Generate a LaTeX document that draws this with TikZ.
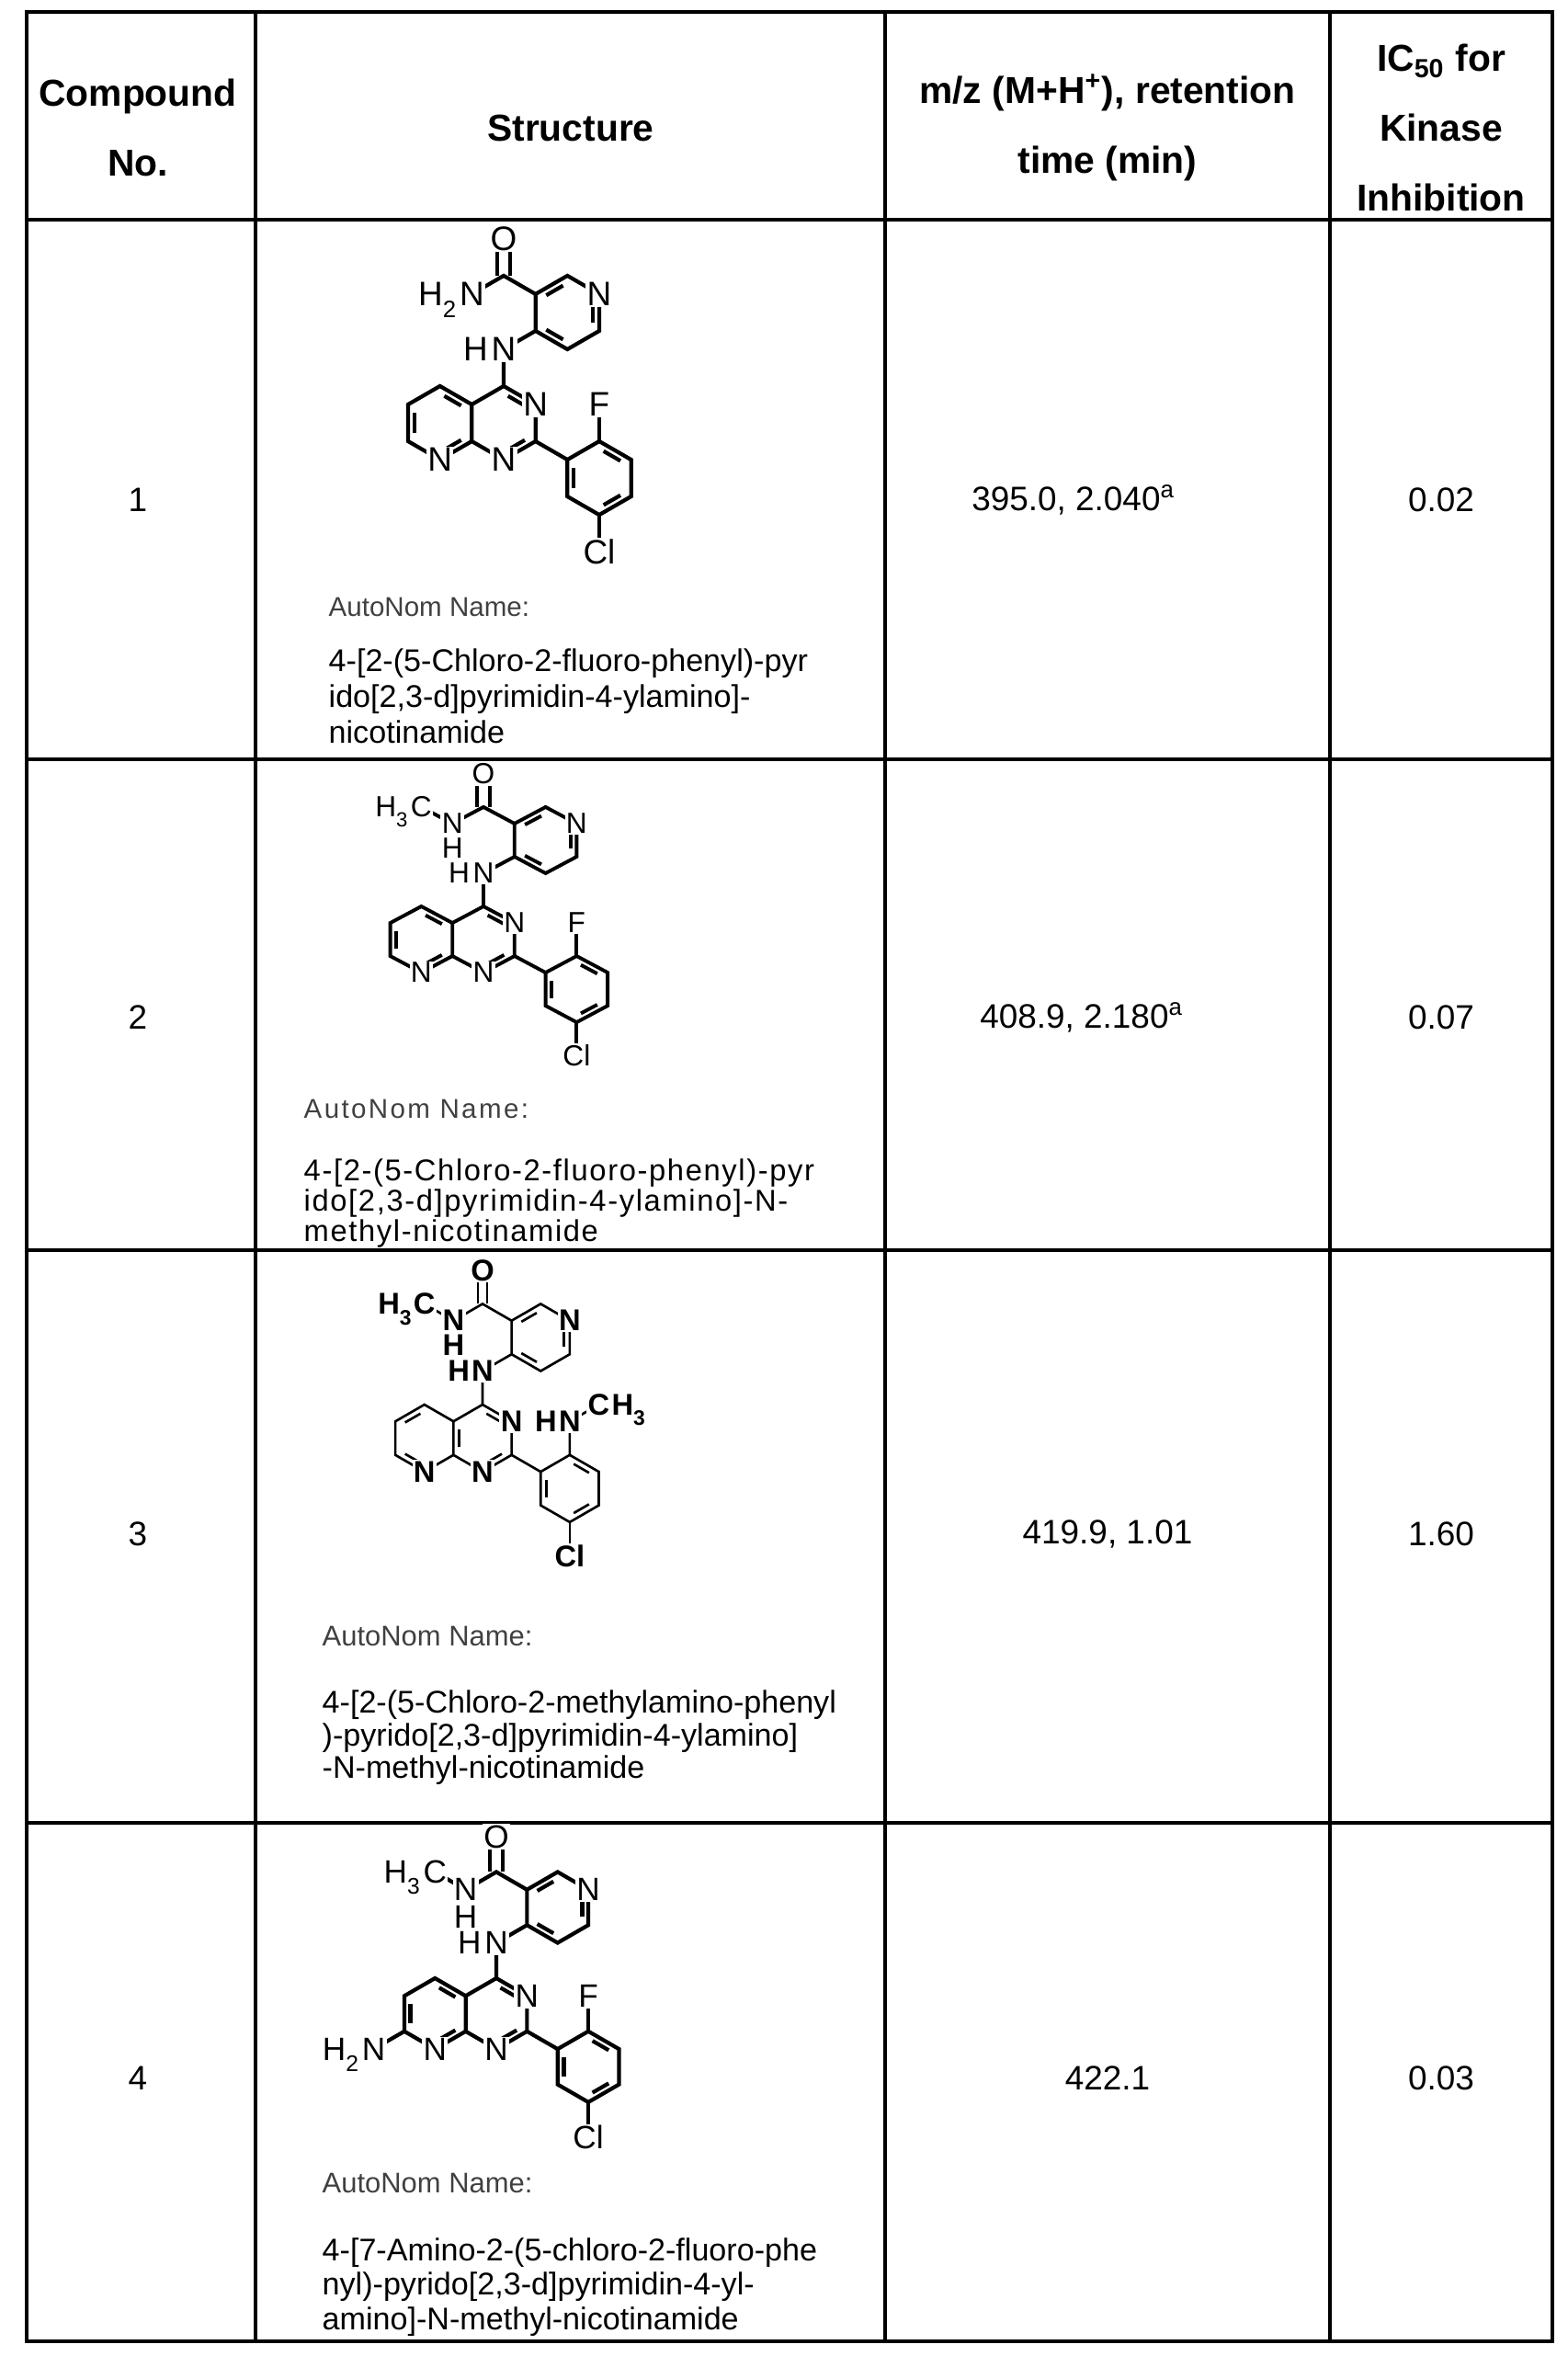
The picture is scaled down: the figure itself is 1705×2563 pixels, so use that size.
\documentclass[tikz,border=0pt]{standalone}
\usepackage{fontspec}
\setmainfont{Liberation Sans}
\usetikzlibrary{calc}
\newcommand\sbs[1]{\raisebox{-0.35em}{\scalebox{0.7}{#1}}}
\def\ls{8}
\tikzset{
  lab/.style={fill=white,inner sep=0.4pt,font=\fontsize{\ls}{\ls}\selectfont},
  hl/.style={lab,anchor=base east,inner xsep=0pt,xshift=0.5pt},
  hr/.style={lab,anchor=base west,inner xsep=0pt,xshift=-0.5pt},
  tline/.style={line width=1.2pt},
  hdr/.style={font=\bfseries\fontsize{11.6}{21.5}\selectfont,align=center},
  val/.style={font=\fontsize{10.5}{12}\selectfont},
  nm/.style={anchor=base west,font=\fontsize{9.7}{10}\selectfont,inner sep=0pt},
  an/.style={anchor=base west,font=\fontsize{8.4}{10}\selectfont,inner sep=0pt,text=black!75},
}
\newcommand\dbl[3]{\draw ($($(#1)!0.17!(#2)$)!0.2!(#3)$) -- ($($(#2)!0.17!(#1)$)!0.2!(#3)$);}
\newcommand\molcoords{
  \coordinate (C4) at (0,0); \coordinate (N3) at (0.866,0.5); \coordinate (C2) at (0.866,1.5);
  \coordinate (N1) at (0,2); \coordinate (C8a) at (-0.866,1.5); \coordinate (C4a) at (-0.866,0.5);
  \coordinate (C5) at (-1.732,0); \coordinate (C6) at (-2.598,0.5); \coordinate (C7) at (-2.598,1.5);
  \coordinate (N8) at (-1.732,2); \coordinate (P) at (0,1); \coordinate (Q) at (-1.732,1);
  \coordinate (NH) at (0,-1); \coordinate (U4) at (0.866,-1.5); \coordinate (U3) at (0.866,-2.5);
  \coordinate (U2) at (1.732,-3); \coordinate (U1) at (2.598,-2.5); \coordinate (U6) at (2.598,-1.5);
  \coordinate (U5) at (1.732,-1); \coordinate (R) at (1.732,-2);
  \coordinate (Cc) at (0,-3); \coordinate (O) at (0,-4); \coordinate (Na) at (-0.866,-2.5);
  \coordinate (Me) at (-1.732,-3);
  \coordinate (A1) at (1.732,2); \coordinate (A2) at (2.598,1.5); \coordinate (A3) at (3.464,2);
  \coordinate (A4) at (3.464,3); \coordinate (A5) at (2.598,3.5); \coordinate (A6) at (1.732,3);
  \coordinate (S) at (2.598,2.5); \coordinate (Fx) at (2.598,0.5); \coordinate (Clx) at (2.598,4.5);
  \coordinate (Cm) at (3.464,0); \coordinate (N7) at (-3.464,2);
}
\newcommand\molbonds{
  \draw (C4)--(N3)--(C2)--(N1)--(C8a)--(C4a)--cycle;
  \draw (C4a)--(C5)--(C6)--(C7)--(N8)--(C8a);
  \draw (C4)--(NH)--(U4)--(U3)--(U2)--(U1)--(U6)--(U5)--(U4);
  \draw (U3)--(Cc)--(Na); \draw (C2)--(A1)--(A2)--(A3)--(A4)--(A5)--(A6)--(A1);
  \draw (A5)--(Clx); \draw (A2)--(Fx);
  \draw ([xshift=-0.07cm]Cc)--([xshift=-0.07cm]O); \draw ([xshift=0.07cm]Cc)--([xshift=0.07cm]O);
  \dbl{C4}{N3}{P}\dbl{C2}{N1}{P}\dbl{C4a}{C5}{Q}\dbl{C6}{C7}{Q}\dbl{N8}{C8a}{Q}
  \dbl{U3}{U2}{R}\dbl{U1}{U6}{R}\dbl{U5}{U4}{R}\dbl{A2}{A3}{S}\dbl{A4}{A5}{S}\dbl{A6}{A1}{S}
}
\newcommand\mollabels{
  \node[lab] (lN3) at (N3) {N}; \node[lab] (lN1) at (N1) {N}; \node[lab] (lN8) at (N8) {N};
  \node[lab] (lU1) at (U1) {N}; \node[lab] (lO) at (O) {O}; \node[lab] (lCl) at (Clx) {Cl};
  \node[lab] (lNH) at (NH) {N}; \node[hl] (lNHh) at (lNH.base west) {H};
}
\newcommand\amideNH{
  \draw (Na)--(Me);
  \node[lab] (lNa) at (Na) {N}; \node[lab,anchor=north,inner ysep=0pt] (lNah) at (lNa.south) {H};
  \node[lab] (lMe) at (Me) {C}; \node[hl] (lMeh) at (lMe.base west) {H\sbs{3}};
}
\begin{document}
\begin{tikzpicture}[x=0.01cm,y=-0.01cm]
\useasboundingbox (0,0) rectangle (1705,2563);
% table
\draw[tline] (29,13) rectangle (1689,2547);
\foreach \xx in {278,963,1447} \draw[tline] (\xx,13) -- (\xx,2547);
\foreach \yy in {239,826,1360,1983} \draw[tline] (29,\yy) -- (1689,\yy);
% header
\node[hdr] (h1) at (150,139) {Compound\\No.};
\node[hdr] (h2) at (621,139) {Structure};
\node[hdr] (h3) at (1205,139) {m/z (M+H\textsuperscript{+}), retention\\time (min)};
\node[hdr] (h4) at (1568,139) {IC\textsubscript{50} for\\Kinase\\Inhibition};
% numbers and values
\node[val] (n1) at (150,544) {1}; \node[val] (m1) at (1168,544) {395.0, 2.040\textsuperscript{a}}; \node[val] (i1) at (1568,544) {0.02};
\node[val] (n2) at (150,1107) {2}; \node[val] (m2) at (1177,1107) {408.9, 2.180\textsuperscript{a}}; \node[val] (i2) at (1568,1107) {0.07};
\node[val] (n3) at (150,1669) {3}; \node[val] (m3) at (1205,1669) {419.9, 1.01}; \node[val] (i3) at (1568,1669) {1.60};
\node[val] (n4) at (150,2261) {4}; \node[val] (m4) at (1205,2261) {422.1}; \node[val] (i4) at (1568,2261) {0.03};
% compound 1
\begin{scope}[shift={(548,420)}]\begin{scope}[x=0.40cm,y=-0.40cm,line width=1.2pt]
\def\ls{10.5}
\molcoords\molbonds\mollabels
\node[lab] (lF) at (Fx) {F};
\node[lab] (lNa) at (Na) {N}; \node[hl] (lNah) at (lNa.base west) {H\sbs{2}};
\end{scope}\end{scope}
\node[an] (a1) at (357,670) {AutoNom Name:};
\node[nm] (t1a) at (357,730) {4-[2-(5-Chloro-2-fluoro-phenyl)-pyr};
\node[nm] (t1b) at (357,769) {ido[2,3-d]pyrimidin-4-ylamino]-};
\node[nm] (t1c) at (357,808) {nicotinamide};
% compound 2
\begin{scope}[shift={(526,986)}]\begin{scope}[x=0.39cm,y=-0.36cm,line width=1.1pt]
\def\ls{9}
\molcoords\molbonds\mollabels\amideNH
\node[lab] (lF) at (Fx) {F};
\end{scope}\end{scope}
\node[an,font=\fontsize{8.4}{10}\selectfont\addfontfeature{LetterSpace=8}] (a2) at (330,1216) {AutoNom Name:};
\node[nm,font=\fontsize{9.3}{10}\selectfont\addfontfeature{LetterSpace=5}] (t2a) at (330,1284) {4-[2-(5-Chloro-2-fluoro-phenyl)-pyr};
\node[nm,font=\fontsize{9.3}{10}\selectfont\addfontfeature{LetterSpace=5}] (t2b) at (330,1317) {ido[2,3-d]pyrimidin-4-ylamino]-N-};
\node[nm,font=\fontsize{9.3}{10}\selectfont\addfontfeature{LetterSpace=5}] (t2c) at (330,1350) {methyl-nicotinamide};
% compound 3
\begin{scope}[shift={(525,1528)}]\begin{scope}[x=0.365cm,y=-0.365cm,line width=0.75pt]
\def\ls{9.3}
\molcoords
\draw (C4)--(N3)--(C2)--(N1)--(C8a)--(C4a)--cycle;
\draw (C4a)--(C5)--(C6)--(C7)--(N8)--(C8a);
\draw (C4)--(NH)--(U4)--(U3)--(U2)--(U1)--(U6)--(U5)--(U4);
\draw (U3)--(Cc)--(Na); \draw (C2)--(A1)--(A2)--(A3)--(A4)--(A5)--(A6)--(A1);
\draw (A5)--(Clx); \draw (A2)--(Fx)--(Cm);
\draw ([xshift=-0.05cm]Cc)--([xshift=-0.05cm]O); \draw ([xshift=0.05cm]Cc)--([xshift=0.05cm]O);
\dbl{C4}{N3}{P}\dbl{C2}{N1}{P}\dbl{C4a}{C8a}{P}\dbl{C5}{C6}{Q}\dbl{C7}{N8}{Q}
\dbl{U3}{U2}{R}\dbl{U1}{U6}{R}\dbl{U5}{U4}{R}\dbl{A2}{A3}{S}\dbl{A4}{A5}{S}\dbl{A6}{A1}{S}
\tikzset{lab/.append style={font=\bfseries\fontsize{\ls}{\ls}\selectfont}}
\mollabels\amideNH
\node[lab] (lNm) at (Fx) {N}; \node[hl] (lNmh) at (lNm.base west) {H};
\node[lab] (lCm) at (Cm) {C}; \node[hr] (lCmh) at (lCm.base east) {H\sbs{3}};
\end{scope}\end{scope}
\node[an,font=\fontsize{8.8}{10}\selectfont] (a3) at (350,1790) {AutoNom Name:};
\node[nm] (t3a) at (350,1863) {4-[2-(5-Chloro-2-methylamino-phenyl};
\node[nm] (t3b) at (350,1899) {)-pyrido[2,3-d]pyrimidin-4-ylamino]};
\node[nm] (t3c) at (350,1934) {-N-methyl-nicotinamide};
% compound 4
\begin{scope}[shift={(540,2152)}]\begin{scope}[x=0.385cm,y=-0.385cm,line width=1.2pt]
\def\ls{10}
\molcoords\molbonds
\draw (C7)--(N7);
\mollabels\amideNH
\node[lab] (lF) at (Fx) {F};
\node[lab] (lN7) at (N7) {N}; \node[hl] (lN7h) at (lN7.base west) {H\sbs{2}};
\end{scope}\end{scope}
\node[an,font=\fontsize{8.8}{10}\selectfont] (a4) at (350,2385) {AutoNom Name:};
\node[nm] (t4a) at (350,2459) {4-[7-Amino-2-(5-chloro-2-fluoro-phe};
\node[nm] (t4b) at (350,2496) {nyl)-pyrido[2,3-d]pyrimidin-4-yl-};
\node[nm] (t4c) at (350,2534) {amino]-N-methyl-nicotinamide};
\end{tikzpicture}
\end{document}
